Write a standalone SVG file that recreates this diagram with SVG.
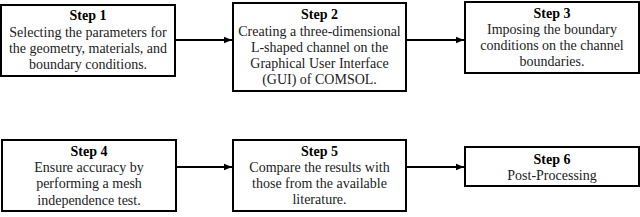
<svg xmlns="http://www.w3.org/2000/svg" width="640" height="217" viewBox="0 0 640 217">
<style>
.box{fill:#fff;stroke:#000;stroke-width:2}
text{font-family:"Liberation Serif","Times New Roman",serif;font-size:14px;fill:#222;text-anchor:middle}
.t{font-weight:bold;fill:#000}
.c{stroke:#000;stroke-width:2;fill:none}
</style>
<defs>
<marker id="ah" viewBox="0 0 10 10" refX="10" refY="5" markerWidth="4" markerHeight="4" orient="auto" markerUnits="strokeWidth">
<path d="M0,1 L10,5 L0,9 z" fill="#000"/>
</marker>
</defs>
<rect width="640" height="217" fill="#fff"/>
<g id="connectors">
<line class="c" x1="176" y1="40" x2="232" y2="40" marker-end="url(#ah)"/>
<line class="c" x1="407" y1="40" x2="464" y2="40" marker-end="url(#ah)"/>
<line class="c" x1="177" y1="167" x2="232" y2="167" marker-end="url(#ah)"/>
<line class="c" x1="407" y1="167" x2="464" y2="167" marker-end="url(#ah)"/>
</g>
<g id="step1">
<rect class="box" x="1" y="5" width="174" height="71"/>
<text class="t" font-family="Liberation Serif" x="88" y="20">Step 1</text>
<text font-family="Liberation Serif" x="88" y="37">Selecting the parameters for</text>
<text font-family="Liberation Serif" x="88" y="53">the geometry, materials, and</text>
<text font-family="Liberation Serif" x="88" y="69">boundary conditions.</text>
</g>
<g id="step2">
<rect class="box" x="233" y="3" width="173" height="88"/>
<text class="t" font-family="Liberation Serif" x="319.5" y="19">Step 2</text>
<text font-family="Liberation Serif" x="319.5" y="36">Creating a three-dimensional</text>
<text font-family="Liberation Serif" x="319.5" y="52">L-shaped channel on the</text>
<text font-family="Liberation Serif" x="319.5" y="68">Graphical User Interface</text>
<text font-family="Liberation Serif" x="319.5" y="84">(GUI) of COMSOL.</text>
</g>
<g id="step3">
<rect class="box" x="465" y="2" width="174" height="71"/>
<text class="t" font-family="Liberation Serif" x="552" y="18">Step 3</text>
<text font-family="Liberation Serif" x="552" y="34">Imposing  the boundary</text>
<text font-family="Liberation Serif" x="552" y="50">conditions on the channel</text>
<text font-family="Liberation Serif" x="552" y="66">boundaries.</text>
</g>
<g id="step4">
<rect class="box" x="2" y="140" width="174" height="71"/>
<text class="t" font-family="Liberation Serif" x="89" y="156">Step 4</text>
<text font-family="Liberation Serif" x="89" y="172">Ensure accuracy by</text>
<text font-family="Liberation Serif" x="89" y="188">performing a mesh</text>
<text font-family="Liberation Serif" x="89" y="205">independence test.</text>
</g>
<g id="step5">
<rect class="box" x="233" y="140" width="173" height="71"/>
<text class="t" font-family="Liberation Serif" x="319.5" y="156">Step 5</text>
<text font-family="Liberation Serif" x="319.5" y="172">Compare the results with</text>
<text font-family="Liberation Serif" x="319.5" y="188">those from the available</text>
<text font-family="Liberation Serif" x="319.5" y="204">literature.</text>
</g>
<g id="step6">
<rect class="box" x="465" y="147" width="174" height="39"/>
<text class="t" font-family="Liberation Serif" x="552" y="164">Step 6</text>
<text font-family="Liberation Serif" x="552" y="180">Post-Processing</text>
</g>
</svg>
